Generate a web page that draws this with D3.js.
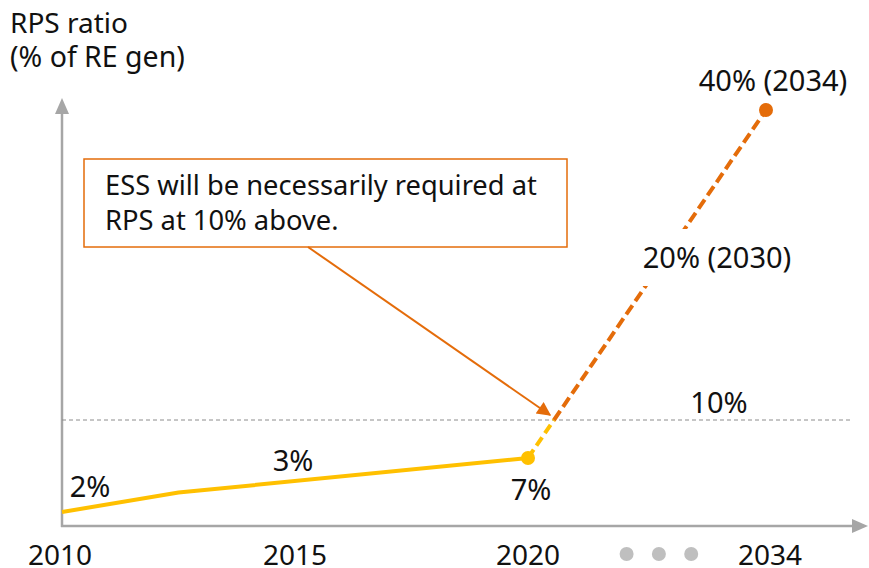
<!DOCTYPE html>
<html><head><meta charset="utf-8">
<script src="https://cdn.jsdelivr.net/npm/d3@7"></script>
<style>
html,body{margin:0;padding:0;background:#fff;}
svg{display:block;font-family:"Noto Sans","Open Sans",sans-serif;}
</style></head>
<body>
<svg id="chart" width="869" height="568"></svg>
<script>
// ---- data ----
const tickYears = [2010, 2015, 2020, 2034];
const gapMarks = [2025.8, 2027.7, 2029.6];
const actualYears = [2010, 2012.5, 2020];
const actualValues = [2, 3.8, 7];
const targetYears = [2020, 2034];
const targetValues = [7, 40];
const threshold = 10;
const thresholdLabel = "10%";
const pointLabels = [
  {year: 2010, value: 2, text: "2%"},
  {year: 2015, value: 3, text: "3%"},
  {year: 2020, value: 7, text: "7%"},
  {year: 2030, value: 20, text: "20% (2030)"},
  {year: 2034, value: 40, text: "40% (2034)"}
];
const calloutLines = ["ESS will be necessarily required at", "RPS at 10% above."];
const yTitle = ["RPS ratio", "(% of RE gen)"];

// ---- styles ----
const YELLOW = "#FFC000", ORANGE = "#E46C0A", AXIS = "#A6A6A6";

const svg = d3.select("#chart");
const x = d3.scaleLinear().domain([2010, 2020, 2034]).range([62, 528, 766]);
const y = d3.scaleLinear().domain([0, 2, 7, 10, 40]).range([526, 512, 458, 420, 110]);

const defs = svg.append("defs");
defs.append("marker").attr("id","arrOrange").attr("viewBox","0 0 10 10").attr("refX",9).attr("refY",5)
  .attr("markerWidth",8).attr("markerHeight",7).attr("markerUnits","strokeWidth").attr("orient","auto")
  .append("path").attr("d","M0,0L10,5L0,10z").attr("fill",ORANGE);

// axes
const x0 = x(2010), yBase = y(0);
svg.append("line").attr("x1",x0).attr("x2",x0).attr("y1",yBase+1).attr("y2",112)
  .attr("stroke",AXIS).attr("stroke-width",2.5);
svg.append("path").attr("d",`M${x0-7},114L${x0},98L${x0+7},114Z`).attr("fill",AXIS);
svg.append("line").attr("x1",x0-1).attr("x2",852).attr("y1",yBase).attr("y2",yBase)
  .attr("stroke",AXIS).attr("stroke-width",2.5);
svg.append("path").attr("d",`M852,${yBase-7}L868,${yBase}L852,${yBase+7}Z`).attr("fill",AXIS);

// threshold line
svg.append("line").attr("x1",x0).attr("x2",852).attr("y1",y(threshold)).attr("y2",y(threshold))
  .attr("stroke","#8c8c8c").attr("stroke-width",1).attr("stroke-dasharray","4,3");

// actual line
const line = d3.line().x(d=>x(d[0])).y(d=>y(d[1]));
svg.append("path").datum(d3.zip(actualYears, actualValues)).attr("d",line)
  .attr("fill","none").attr("stroke",YELLOW).attr("stroke-width",4);

// target dashed line split at threshold
const p0 = [x(targetYears[0]), y(targetValues[0])];
const p1 = [x(targetYears[1]), y(targetValues[1])];
const t = (y(threshold) - p0[1]) / (p1[1] - p0[1]);
const pc = [p0[0] + t*(p1[0]-p0[0]), y(threshold)];
svg.append("line").attr("x1",p0[0]).attr("y1",p0[1]).attr("x2",pc[0]).attr("y2",pc[1])
  .attr("stroke",YELLOW).attr("stroke-width",4).attr("stroke-dasharray","10,5");
svg.append("line").attr("x1",pc[0]).attr("y1",pc[1]).attr("x2",p1[0]).attr("y2",p1[1])
  .attr("stroke",ORANGE).attr("stroke-width",4).attr("stroke-dasharray","11,5");

// dots
svg.append("circle").attr("cx",p0[0]).attr("cy",p0[1]).attr("r",7).attr("fill",YELLOW);
svg.append("circle").attr("cx",p1[0]).attr("cy",p1[1]).attr("r",7).attr("fill",ORANGE);

// 20% label box (white background covering line)
svg.append("rect").attr("x",630).attr("y",229).attr("width",172).attr("height",57).attr("fill","#fff");

// labels
const txt = (s,xx,yy,anchor,fs) => svg.append("text").attr("x",xx).attr("y",yy).attr("text-anchor",anchor||"start")
  .attr("font-size",fs||28).attr("fill","#111").text(s);
const lab = pointLabels;
txt(lab[0].text, 90, 497, "middle", 29);
txt(lab[1].text, x(lab[1].year)-2, 471, "middle", 29);
txt(lab[2].text, x(lab[2].year)+3, 500, "middle", 29);
txt(thresholdLabel, 719, 413, "middle", 29);
txt(lab[3].text, 717, 268, "middle", 29);
txt(lab[4].text, 773, 91, "middle", 29);

// x tick labels
tickYears.forEach(yr => txt(String(yr), x(yr) + (yr===2034?4:(yr===2010?-2:0)), 565, "middle", 28));
svg.selectAll(".gap").data(gapMarks).join("circle").attr("cx",d=>x(d)).attr("cy",554).attr("r",7).attr("fill","#BFBFBF");

// y title (single text, two lines)
const title = svg.append("text").attr("x",10).attr("y",33).attr("font-size",28).attr("fill","#111");
title.selectAll("tspan").data(yTitle).join("tspan").attr("x",10).attr("dy",(d,i)=>i?34:0)
  .attr("font-size",(d,i)=>i?28.5:28).text(d=>d);

// callout
svg.append("rect").attr("x",84).attr("y",159).attr("width",483).attr("height",88)
  .attr("fill","#fff").attr("stroke",ORANGE).attr("stroke-width",1.5);
const ct = svg.append("text").attr("x",105).attr("y",195).attr("font-size",27.3).attr("fill","#111");
ct.selectAll("tspan").data(calloutLines).join("tspan").attr("x",105).attr("dy",(d,i)=>i?35:0).text(d=>d);
svg.append("line").attr("x1",308).attr("y1",247).attr("x2",pc[0]-4).attr("y2",pc[1]-5)
  .attr("stroke",ORANGE).attr("stroke-width",2).attr("marker-end","url(#arrOrange)");
</script>
</body></html>
